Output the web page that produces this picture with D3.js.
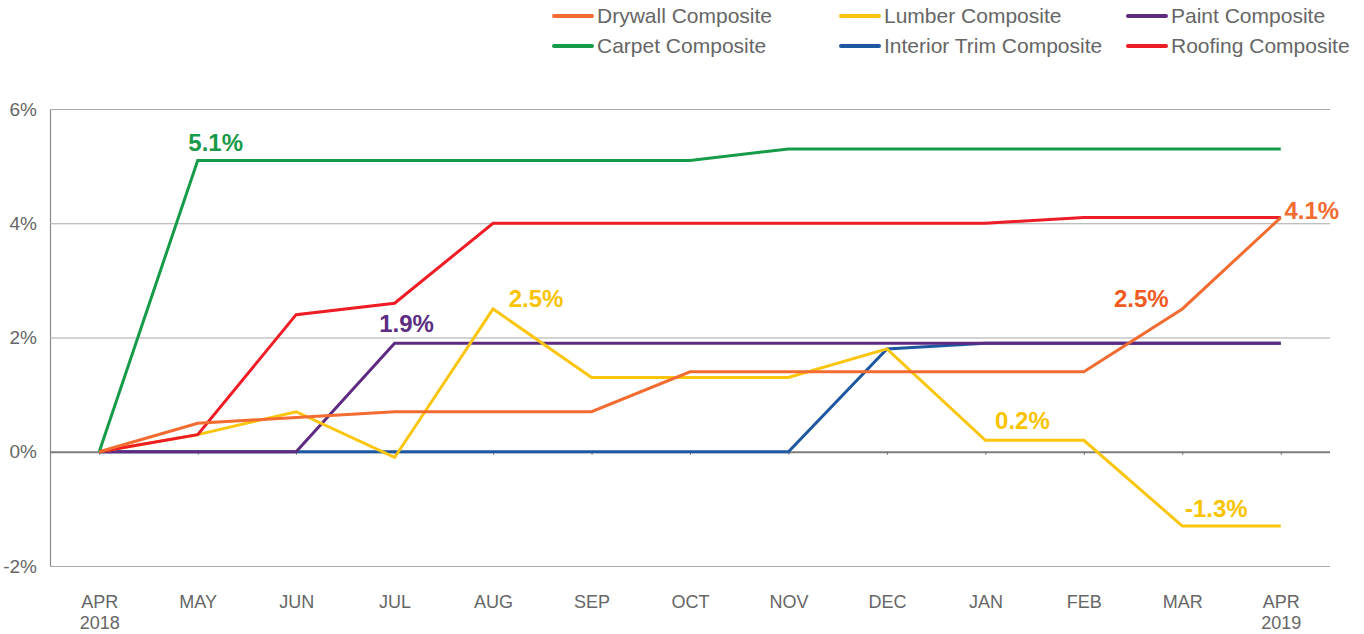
<!DOCTYPE html>
<html>
<head>
<meta charset="utf-8">
<script src="https://cdn.jsdelivr.net/npm/d3@7"></script>
<style>
  body { margin: 0; background: #fff; }
  svg { display: block; font-family: "Liberation Sans", Arial, sans-serif; }
</style>
</head>
<body>
<div id="chart"></div>
<script>
// months along the x axis (two-line labels)
const months = ['APR|2018', 'MAY', 'JUN', 'JUL', 'AUG', 'SEP', 'OCT', 'NOV', 'DEC', 'JAN', 'FEB', 'MAR', 'APR|2019'];
const yTicks = [-2, 0, 2, 4, 6];

// cumulative % change per composite
const drywall  = [0, 0.5, 0.6, 0.7, 0.7, 0.7, 1.4, 1.4, 1.4, 1.4, 1.4, 2.5, 4.1];
const lumber   = [0, 0.3, 0.7, -0.1, 2.5, 1.3, 1.3, 1.3, 1.8, 0.2, 0.2, -1.3, -1.3];
const paint    = [0, 0, 0, 1.9, 1.9, 1.9, 1.9, 1.9, 1.9, 1.9, 1.9, 1.9, 1.9];
const carpet   = [0, 5.1, 5.1, 5.1, 5.1, 5.1, 5.1, 5.3, 5.3, 5.3, 5.3, 5.3, 5.3];
const trim     = [0, 0, 0, 0, 0, 0, 0, 0, 1.8, 1.9, 1.9, 1.9, 1.9];
const roofing  = [0, 0.3, 2.4, 2.6, 4.0, 4.0, 4.0, 4.0, 4.0, 4.0, 4.1, 4.1, 4.1];

const seriesNames = ['Drywall Composite', 'Lumber Composite', 'Paint Composite',
                     'Carpet Composite', 'Interior Trim Composite', 'Roofing Composite'];
const seriesValues = [drywall, lumber, paint, carpet, trim, roofing];
const colors = ['#f26b30', '#fbc50d', '#5f2a82', '#169b48', '#1d58a0', '#ee1c25'];

// value callouts: [series index, month index, text]
const callouts = [
  [3, 1, '5.1%'], [2, 3, '1.9%'], [1, 4, '2.5%'], [1, 9, '0.2%'],
  [0, 11, '2.5%'], [0, 12, '4.1%'], [1, 11, '-1.3%']
];
const calloutColors = ['#189a4a', '#5c2d82', '#f9c300', '#f9c300', '#f15a22', '#f26c32', '#f9c300'];

const width = 1364, height = 634;
const margin = { top: 109, right: 34, bottom: 68, left: 50 };

const svg = d3.select('#chart').append('svg')
  .attr('width', width)
  .attr('height', height);

const x = d3.scalePoint()
  .domain(d3.range(months.length))
  .range([margin.left, width - margin.right])
  .padding(0.5);

const y = d3.scaleLinear()
  .domain([-2, 6])
  .range([height - margin.bottom, margin.top]);

// y axis + gridlines
const yAxis = svg.append('g')
  .attr('transform', 'translate(' + margin.left + ',0)')
  .call(d3.axisLeft(y)
    .tickValues(yTicks)
    .tickSize(-(width - margin.left - margin.right))
    .tickSizeOuter(0)
    .tickPadding(13)
    .tickFormat(d => d + '%'));
yAxis.select('.domain').attr('stroke', '#8a8a8a').attr('stroke-width', 1.2);
yAxis.selectAll('.tick line')
  .attr('stroke', d => d === 0 ? '#7d7d7d' : '#a8a8a8')
  .attr('stroke-width', d => d === 0 ? 2 : 1.2);
yAxis.selectAll('.tick text')
  .attr('fill', '#666')
  .attr('font-size', 19);

// x axis labels
const xAxis = svg.append('g')
  .attr('transform', 'translate(0,' + (height - margin.bottom) + ')')
  .call(d3.axisBottom(x).tickSize(0).tickPadding(29).tickFormat(() => ''));
xAxis.select('.domain').remove();
xAxis.selectAll('.tick text').each(function (d) {
  const t = d3.select(this).attr('fill', '#666').attr('font-size', 18);
  months[d].split('|').forEach((part, i) => {
    t.append('tspan').attr('x', 0).attr('dy', i === 0 ? null : '1.2em').text(part);
  });
});

// small tick marks on the zero line
svg.append('g')
  .attr('transform', 'translate(0,' + y(0) + ')')
  .call(d3.axisBottom(x).tickSize(3).tickFormat(''))
  .call(g => g.select('.domain').remove())
  .selectAll('.tick line').attr('stroke', '#6f6f6f');

// lines (draw order so orange sits on top, blue beneath purple)
const line = d3.line()
  .x((d, i) => x(i))
  .y(d => y(d));

const drawOrder = [4, 2, 1, 5, 3, 0];
svg.append('g')
  .selectAll('path')
  .data(drawOrder)
  .enter().append('path')
  .attr('d', i => line(seriesValues[i]))
  .attr('fill', 'none')
  .attr('stroke', i => colors[i])
  .attr('stroke-width', 3)
  .attr('stroke-linejoin', 'miter');

// callout labels
const calloutOffsets = [[18, -9], [12, -11], [43, -2], [37, -11], [-41, -2], [31, 1], [34, -9]];
svg.append('g')
  .selectAll('text')
  .data(callouts)
  .enter().append('text')
  .attr('x', (d, i) => x(d[1]) + calloutOffsets[i][0])
  .attr('y', (d, i) => y(seriesValues[d[0]][d[1]]) + calloutOffsets[i][1])
  .attr('text-anchor', 'middle')
  .attr('font-size', 24)
  .attr('font-weight', 'bold')
  .attr('fill', (d, i) => calloutColors[i])
  .text(d => d[2]);

// legend
const legend = svg.append('g')
  .selectAll('g')
  .data(seriesNames)
  .enter().append('g')
  .attr('transform', (d, i) => 'translate(' + (554 + (i % 3) * 287) + ',' + (16 + Math.floor(i / 3) * 30) + ')');

legend.append('line')
  .attr('x1', 0).attr('x2', 38)
  .attr('stroke', (d, i) => colors[i])
  .attr('stroke-width', 4)
  .attr('stroke-linecap', 'round');

legend.append('text')
  .attr('x', 43)
  .attr('dy', '0.35em')
  .attr('font-size', 21)
  .attr('fill', '#666')
  .text(d => d);
</script>
</body>
</html>
